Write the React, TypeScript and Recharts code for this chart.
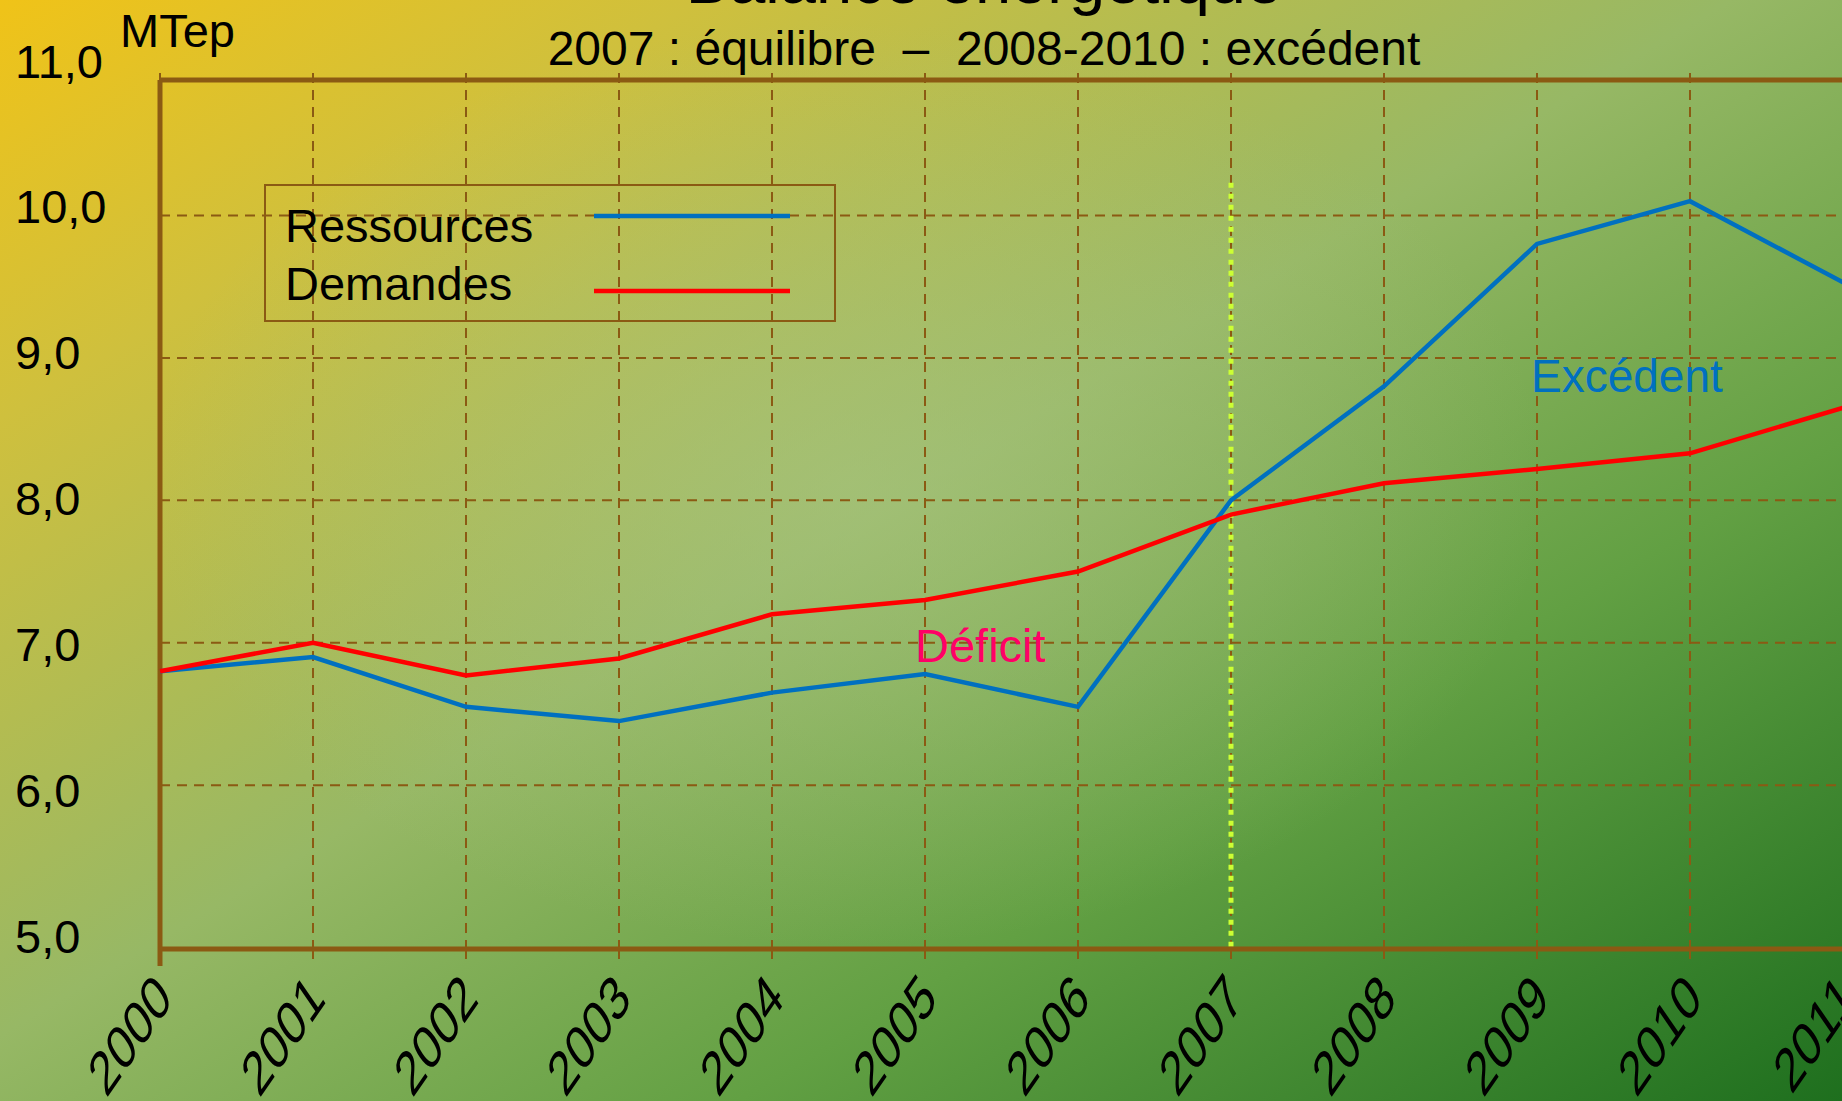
import React from 'react';
import { LineChart, Line, XAxis, YAxis, CartesianGrid, ReferenceLine, Legend } from 'recharts';

const years = ['2000', '2001', '2002', '2003', '2004', '2005', '2006', '2007', '2008', '2009', '2010', '2011'];
const ressources = [6.8, 6.9, 6.55, 6.45, 6.65, 6.78, 6.55, 8.0, 8.8, 9.8, 10.1, 9.53];
const demandes = [6.8, 7.0, 6.77, 6.89, 7.2, 7.3, 7.5, 7.9, 8.12, 8.22, 8.33, 8.65];
const yTicks = [5, 6, 7, 8, 9, 10, 11];
const gridValues = [6, 7, 8, 9, 10];
const legendOrder = ['Ressources', 'Demandes'];

const BROWN = '#8B5A13';
const FONT = '"Liberation Sans", Arial, sans-serif';

const data = years.map((year, i) => ({ year, ressources: ressources[i], demandes: demandes[i] }));

const YearTick = (props: any) => {
  const { x, y, payload, index } = props;
  const px = x + 14;
  const py = y + 52;
  return (
    <g>
      <line
        x1={x}
        y1={y}
        x2={x}
        y2={y + 17}
        stroke={BROWN}
        strokeWidth={index === 0 ? 5 : 2}
        strokeDasharray={index === 0 ? undefined : '10 7'}
      />
      <text
        textAnchor="end"
        fontSize={43}
        fontFamily={FONT}
        fill="#000"
        transform={`translate(${px} ${py}) scale(1 1.45) rotate(-45)`}
      >
        {payload.value}
      </text>
    </g>
  );
};

const ValueTick = (props: any) => {
  const { y, payload } = props;
  const v = Number(payload.value);
  // labels sit on a slightly wider pitch than the grid
  const dy = 15 + (8 - v) * 3.5;
  return (
    <text x={15} y={y + dy} fontSize={47} fontFamily={FONT} fill="#000">
      {v.toFixed(1).replace('.', ',')}
    </text>
  );
};

const LegendBox = (props: any) => {
  const payload = [...(props.payload || [])].sort(
    (a: any, b: any) => legendOrder.indexOf(a.value) - legendOrder.indexOf(b.value)
  );
  return (
    <svg width={572} height={138} style={{ display: 'block' }}>
      <rect x={1} y={1} width={570} height={136} fill="none" stroke={BROWN} strokeWidth={2} />
      {payload.map((p: any, i: number) => (
        <g key={p.value}>
          <text x={21} y={58 + i * 58} fontSize={47} fontFamily={FONT} fill="#000">
            {p.value}
          </text>
          <line x1={330} x2={526} y1={32 + i * 75} y2={32 + i * 75} stroke={p.color} strokeWidth={4.5} />
        </g>
      ))}
    </svg>
  );
};

export default function App() {
  return (
    <div
      style={{
        position: 'absolute',
        left: 0,
        top: 0,
        width: 1842,
        height: 1101,
        overflow: 'hidden',
        background:
          'radial-gradient(ellipse 38% 42% at 46% 44%, rgba(168,196,128,0.6), rgba(168,196,128,0) 100%), linear-gradient(to bottom right, #F0C318 0%, #CFC03D 19%, #97B865 47%, #62A043 70%, #1E6F1E 100%)',
        fontFamily: FONT,
      }}
    >
      <LineChart width={1900} height={1101} data={data} margin={{ top: 73, right: 57, bottom: 0, left: 100 }}>
        <CartesianGrid stroke={BROWN} strokeWidth={2} strokeDasharray="10 7" horizontalValues={gridValues} />
        <XAxis
          dataKey="year"
          height={152}
          axisLine={{ stroke: BROWN, strokeWidth: 5 }}
          tickLine={false}
          tickSize={0}
          tickMargin={0}
          tick={<YearTick />}
          interval={0}
        />
        <YAxis
          width={60}
          domain={[4.85, 11]}
          ticks={yTicks}
          axisLine={false}
          tickLine={false}
          tick={<ValueTick />}
        />
        <ReferenceLine
          segment={[
            { x: '2000', y: 10.95 },
            { x: '2000', y: 4.85 },
          ]}
          stroke={BROWN}
          strokeWidth={5}
        />
        <ReferenceLine y={10.95} stroke={BROWN} strokeWidth={5} />
        <ReferenceLine
          segment={[
            { x: '2007', y: 10.23 },
            { x: '2007', y: 4.85 },
          ]}
          stroke="#CCFF33"
          strokeWidth={5}
          strokeDasharray="5 6"
        />
        <Legend
          layout="vertical"
          align="center"
          verticalAlign="middle"
          content={<LegendBox />}
          wrapperStyle={{ left: 264, top: 184, width: 572, height: 138 }}
        />
        <Line type="linear" dataKey="ressources" name="Ressources" stroke="#0070C0" strokeWidth={4.5} dot={false} isAnimationActive={false} />
        <Line type="linear" dataKey="demandes" name="Demandes" stroke="#FF0000" strokeWidth={4.5} dot={false} isAnimationActive={false} />
      </LineChart>
      <svg width={1842} height={1101} style={{ position: 'absolute', left: 0, top: 0, pointerEvents: 'none' }}>
        <text x={984} y={3} textAnchor="middle" fontSize={65} fontFamily={FONT} fill="#000">
          Balance énergétique
        </text>
        <text x={984} y={65} textAnchor="middle" fontSize={48} fontFamily={FONT} fill="#000" style={{ whiteSpace: 'pre' }}>
          {'2007 : équilibre  \u2013  2008-2010 : excédent'}
        </text>
        <text x={120} y={47} fontSize={47} fontFamily={FONT} fill="#000">
          MTep
        </text>
        <text x={915} y={662} fontSize={47} fontFamily={FONT} fill="#FF0066">
          Déficit
        </text>
        <text x={1531} y={392} fontSize={46} fontFamily={FONT} fill="#0070C0">
          Excédent
        </text>
      </svg>
    </div>
  );
}
